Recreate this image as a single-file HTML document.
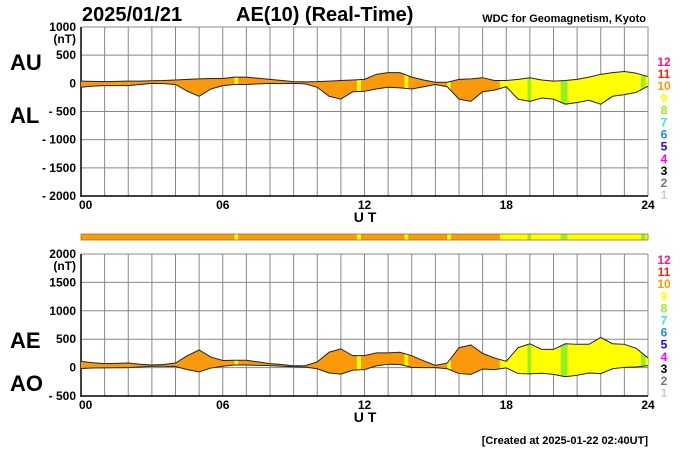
<!DOCTYPE html>
<html><head><meta charset="utf-8"><style>
html,body{margin:0;padding:0;background:#fff;}
svg{display:block;font-family:"Liberation Sans",Arial,sans-serif;}
</style></head><body>
<svg id="chart" width="700" height="450" viewBox="0 0 700 450">
<text x="82" y="21" font-size="20" font-weight="bold">2025/01/21</text>
<text x="236" y="21" font-size="20" font-weight="bold">AE(10) (Real-Time)</text>
<text x="646" y="22" font-size="11" font-weight="bold" text-anchor="end">WDC for Geomagnetism, Kyoto</text>
<text x="10" y="70" font-size="22" font-weight="bold">AU</text>
<text x="10" y="123" font-size="22" font-weight="bold">AL</text>
<text x="10" y="348" font-size="22" font-weight="bold">AE</text>
<text x="10" y="391" font-size="22" font-weight="bold">AO</text>
<text x="648" y="444" font-size="11" font-weight="bold" text-anchor="end">[Created at 2025-01-22 02:40UT]</text>
<g id="g"></g>
</svg>
<script>
const hours = [0,0.5,1,1.5,2,2.5,3,3.5,4,4.5,5,5.5,6,6.5,7,7.5,8,8.5,9,9.5,10,10.5,11,11.5,12,12.5,13,13.5,14,14.5,15,15.5,16,16.5,17,17.5,18,18.5,19,19.5,20,20.5,21,21.5,22,22.5,23,23.5,24];
const auValues = [40,35,30,35,40,40,45,50,60,70,80,85,85,110,110,90,70,50,30,25,30,40,50,60,70,160,190,190,110,60,20,20,70,80,100,50,50,70,100,60,40,50,70,110,160,190,210,180,120];
const alValues = [-70,-50,-40,-40,-40,-20,0,-5,-20,-140,-230,-100,-40,-20,-20,-10,0,-5,0,-10,-70,-230,-280,-150,-140,-100,-70,-80,-100,-60,-20,-60,-280,-320,-150,-120,-60,-280,-320,-260,-280,-370,-340,-300,-370,-230,-200,-160,-50];
const aeValues = [110,85,70,75,80,60,45,55,80,210,310,185,125,130,130,100,70,55,30,35,100,270,330,210,210,260,260,270,210,120,40,80,350,400,250,170,110,350,420,320,320,420,410,410,530,420,410,340,170];
const aoValues = [-15,-8,-5,-3,0,10,23,23,20,-35,-75,-8,23,45,45,40,35,23,15,8,-20,-95,-115,-45,-35,30,60,55,5,0,0,-20,-105,-120,-25,-35,-5,-105,-110,-100,-120,-160,-135,-95,-105,-20,5,10,35];
const segStart = [0,6.5,6.65,11.68,11.85,13.7,13.85,15.5,15.65,17.73,18.9,19.05,20.3,20.6,23.7,23.9];
const segEnd   = [6.5,6.65,11.68,11.85,13.7,13.85,15.5,15.65,17.73,18.9,19.05,20.3,20.6,23.7,23.9,24];
const segLevel = [10,9,10,9,10,9,10,9,10,9,8,9,8,9,8,9];
const levelLabels = ['12','11','10','9','8','7','6','5','4','3','2','1'];
const levelColors = {12:'#ff1493',11:'#ff2200',10:'#ff9900',9:'#ffff00',8:'#99ee22',7:'#33eecc',6:'#2288ff',5:'#2200ff',4:'#ff00ff',3:'#000000',2:'#777777',1:'#cccccc'};
const topTicks = [1000,500,0,-500,-1000,-1500,-2000];
const topTickLabels = ['1000','500','0','- 500','- 1000','- 1500','- 2000'];
const botTicks = [2000,1500,1000,500,0,-500];
const botTickLabels = ['2000','1500','1000','500','0','- 500'];
const xTicks = [0,6,12,18,24];
const xTickLabels = ['00','06','12','18','24'];

const NS='http://www.w3.org/2000/svg';
const g=document.getElementById('g');
const X0=81,X1=648;
const x=h=>X0+(X1-X0)*h/24;
function mk(tag,attrs,parent){const e=document.createElementNS(NS,tag);for(const k in attrs)e.setAttribute(k,attrs[k]);(parent||g).appendChild(e);return e;}
const orange='#fa9a0a';
function col(l){return l===10?orange:levelColors[l];}

function panel(id,yTop,yBot,vTop,vBot,ticks,tlabels,hiS,loS,legendTop){
  const y=v=>yTop+(yBot-yTop)*(vTop-v)/(vTop-vBot);
  for(let h=0;h<=24;h++){
    const l=mk('line',{x1:x(h),x2:x(h),y1:yTop,y2:yBot,stroke:'#888','stroke-width':1});
    
    
  }
  ticks.forEach((t,i)=>{
    const l=mk('line',{x1:X0,x2:X1,y1:y(t),y2:y(t),stroke:'#888','stroke-width':1});
    
    
    const tx=mk('text',{x:76,y:y(t)+4,'font-size':12,'font-weight':'bold','text-anchor':'end'});
    tx.textContent=tlabels[i];
    
    
  });
  const nt=mk('text',{x:76,y:y(ticks[0])+16,'font-size':12,'font-weight':'bold','text-anchor':'end'});
  nt.textContent='(nT)';
  
  
  const ax=mk('line',{x1:X0,x2:X0,y1:yTop,y2:yBot+1,stroke:'#000','stroke-width':1.5});
  
  
  const bx=mk('line',{x1:X0,x2:X1,y1:yBot,y2:yBot,stroke:'#000','stroke-width':1.5});
  
  
  xTicks.forEach((t,i)=>{
    const tx=mk('text',{x:i===0?x(t)-2:x(t),y:yBot+13,'font-size':12,'font-weight':'bold','text-anchor':i===0?'start':'middle'});
    tx.textContent=xTickLabels[i];
    
    
  });
  const ut=mk('text',{x:365,y:yBot+26,'font-size':14,'font-weight':'bold','text-anchor':'middle'});
  ut.textContent='U T';
  
  
  let d='M'+hours.map((h,i)=>x(h)+','+y(hiS[i])).join('L');
  for(let i=hours.length-1;i>=0;i--) d+='L'+x(hours[i])+','+y(loS[i]);
  d+='Z';
  const cp=mk('clipPath',{id:id+'-clip'});
  mk('path',{d:d},cp);
  const grp=mk('g',{'clip-path':'url(#'+id+'-clip)'});
  
  
  segStart.forEach((s,i)=>{
    const r=mk('rect',{x:x(s),y:yTop,width:x(segEnd[i])-x(s),height:yBot-yTop,fill:col(segLevel[i])},grp);
    
    
  });
  [hiS,loS].forEach((s,k)=>{
    const p=mk('polyline',{points:hours.map((h,i)=>x(h)+','+y(s[i])).join(' '),fill:'none',stroke:'#222','stroke-width':1});
    
    
  });
  levelLabels.forEach((lb,i)=>{
    const tx=mk('text',{x:664,y:legendTop+i*12.1+5,'font-size':12,'font-weight':'bold','text-anchor':'middle',fill:levelColors[+lb]});
    tx.textContent=lb;
    
    
  });
}
panel('top-panel',27,196,1000,-2000,topTicks,topTickLabels,auValues,alValues,61);
panel('bottom-panel',254,396,2000,-500,botTicks,botTickLabels,aeValues,aoValues,259);
segStart.forEach((s,i)=>{
  const r=mk('rect',{x:x(s),y:234,width:x(segEnd[i])-x(s),height:6,fill:col(segLevel[i])});
  
  
});
const bb=mk('rect',{x:X0,y:234,width:X1-X0,height:6,fill:'none',stroke:'#b07010','stroke-width':0.8});


</script>
</body></html>
